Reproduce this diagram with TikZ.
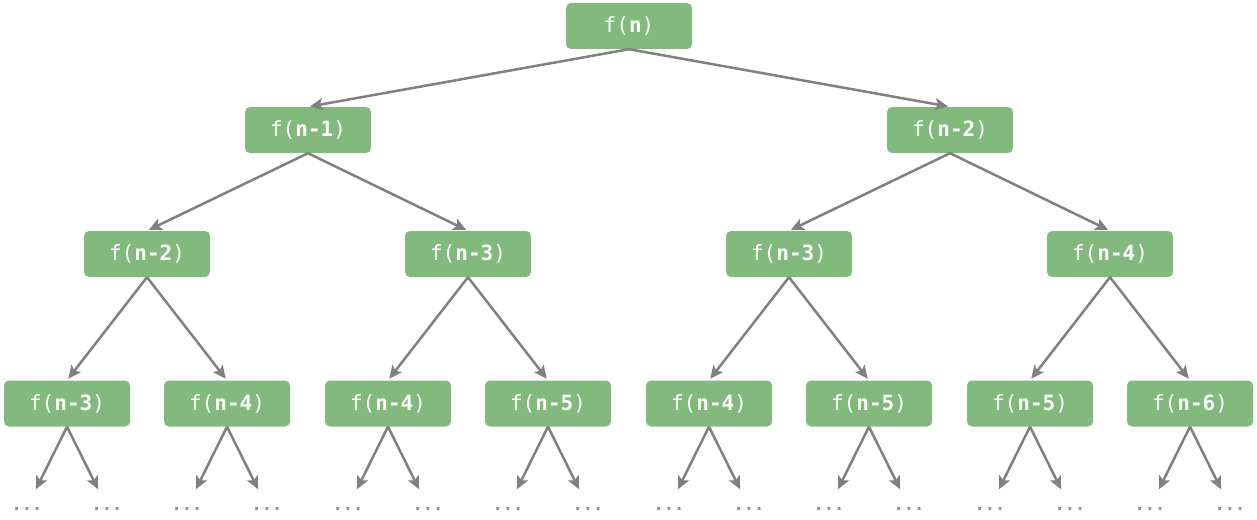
\documentclass[tikz,border=0pt]{standalone}
\usepackage{fontspec}
\setmonofont{DejaVu Sans Mono}
\usetikzlibrary{arrows.meta}
\definecolor{nodegreen}{RGB}{130,186,125}
\definecolor{arrgray}{RGB}{128,128,128}
\definecolor{dotgray}{RGB}{145,145,145}
\tikzset{
  fnode/.style={draw=none, fill=nodegreen, rounded corners=5pt, minimum width=126pt, minimum height=46pt, inner sep=0pt, text=white, font=\ttfamily\fontsize{21}{24}\selectfont},
  arr/.style={draw=arrgray, line width=2.5pt, shorten >=2pt, -{Stealth[length=13pt,width=12pt,inset=3pt]}},
  dotsnode/.style={inner sep=0pt, text=dotgray, font=\ttfamily\bfseries\fontsize{17}{18}\selectfont},
}
\newcommand{\fl}[1]{f(\textbf{#1})}
\begin{document}
\begin{tikzpicture}[x=1pt,y=-1pt]
\useasboundingbox (0,0) rectangle (1257,519);
\node[fnode] (r) at (629,26) {\fl{n}};
\node[fnode] (a) at (308,130) {\fl{n-1}};
\node[fnode] (b) at (950,130) {\fl{n-2}};
\node[fnode] (aa) at (147,254) {\fl{n-2}};
\node[fnode] (ab) at (468,254) {\fl{n-3}};
\node[fnode] (ba) at (789,254) {\fl{n-3}};
\node[fnode] (bb) at (1110,254) {\fl{n-4}};
\node[fnode] (l1) at (67,403.5) {\fl{n-3}};
\node[fnode] (l2) at (227,403.5) {\fl{n-4}};
\node[fnode] (l3) at (388,403.5) {\fl{n-4}};
\node[fnode] (l4) at (548,403.5) {\fl{n-5}};
\node[fnode] (l5) at (709,403.5) {\fl{n-4}};
\node[fnode] (l6) at (869,403.5) {\fl{n-5}};
\node[fnode] (l7) at (1030,403.5) {\fl{n-5}};
\node[fnode] (l8) at (1190,403.5) {\fl{n-6}};
\draw[arr] (r.south) -- (a.north);
\draw[arr] (r.south) -- (b.north);
\draw[arr] (a.south) -- (aa.north);
\draw[arr] (a.south) -- (ab.north);
\draw[arr] (b.south) -- (ba.north);
\draw[arr] (b.south) -- (bb.north);
\draw[arr] (aa.south) -- (l1.north);
\draw[arr] (aa.south) -- (l2.north);
\draw[arr] (ab.south) -- (l3.north);
\draw[arr] (ab.south) -- (l4.north);
\draw[arr] (ba.south) -- (l5.north);
\draw[arr] (ba.south) -- (l6.north);
\draw[arr] (bb.south) -- (l7.north);
\draw[arr] (bb.south) -- (l8.north);
\foreach \n/\x in {1/67,2/227,3/388,4/548,5/709,6/869,7/1030,8/1190}{
  \node[dotsnode] (d\n a) at (\x-40,509) {...};
  \node[dotsnode] (d\n b) at (\x+40,509) {...};
  \draw[arr, shorten >=20pt] (l\n.south) -- (d\n a.north);
  \draw[arr, shorten >=20pt] (l\n.south) -- (d\n b.north);
}
\end{tikzpicture}
\end{document}
